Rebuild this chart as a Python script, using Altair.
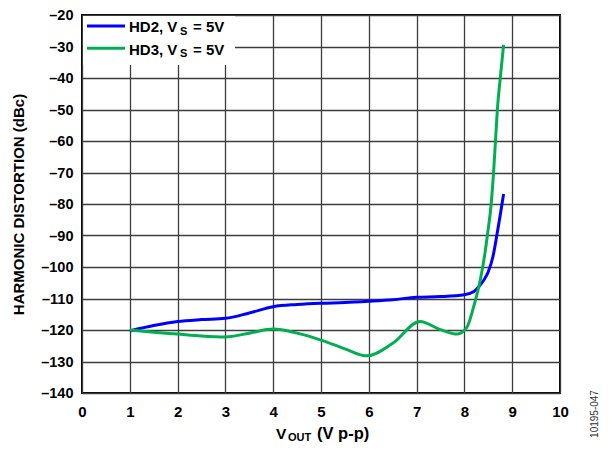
import altair as alt
import pandas as pd

# ---- data ----
hd2_x = [1.0, 1.5, 2.0, 2.5, 3.0, 3.5, 4.0, 4.5, 5.0, 5.5, 6.0, 6.5, 7.0, 7.5, 8.0,
         8.2, 8.3, 8.4, 8.5, 8.6, 8.68, 8.75, 8.82]
hd2_y = [-120.3, -118.6, -117.3, -116.7, -116.3, -114.6, -112.6, -111.9, -111.5, -111.3,
         -110.9, -110.4, -109.6, -109.4, -108.8, -107.8, -106.3, -104.3, -101.5, -96.5,
         -89.8, -83.5, -76.8]
hd3_x = [1.0, 1.5, 2.0, 2.5, 3.0, 3.5, 4.0, 4.5, 5.0, 5.5, 5.96, 6.5, 7.07, 7.5, 7.85,
         8.05, 8.19, 8.33, 8.43, 8.48, 8.56, 8.61, 8.65, 8.69, 8.75, 8.82]
hd3_y = [-120.0, -120.7, -121.3, -121.9, -122.2, -121.0, -119.7, -121.0, -123.2, -126.0,
         -128.2, -124.2, -117.3, -119.9, -121.3, -119.2, -112.8, -104.3, -95.6, -90.0,
         -80.0, -70.0, -60.0, -50.0, -40.0, -29.5]
series_names = ["HD2", "HD3"]
series_colors = ["#0000FF", "#00B050"]
legend_main = ["HD2, V", "HD3, V"]
legend_sub = "S"
legend_tail = "= 5V"
x_ticks = list(range(0, 11))
y_ticks = list(range(-140, -19, 10))
y_title = "HARMONIC DISTORTION (dBc)"
x_title_parts = ["V", "OUT", "(V p-p)"]
side_note = "10195-047"

df = pd.concat([
    pd.DataFrame({"x": hd2_x, "y": hd2_y, "s": series_names[0]}),
    pd.DataFrame({"x": hd3_x, "y": hd3_y, "s": series_names[1]}),
], ignore_index=True)

W, H = 478, 378
FONT = "Liberation Sans"
one = pd.DataFrame({"k": [0]})

x_enc = alt.X("x:Q", scale=alt.Scale(domain=[0, 10], nice=False),
              axis=alt.Axis(values=x_ticks, grid=True, ticks=False, domain=False,
                            labelFont=FONT, labelFontWeight="bold", labelFontSize=15,
                            labelColor="black", labelPadding=11, labelFlush=False,
                            labelOverlap=False, title=None,
                            gridColor="#3d3d3d", gridWidth=1.3))
y_enc = alt.Y("y:Q", scale=alt.Scale(domain=[-140, -20], nice=False, zero=False),
              axis=alt.Axis(values=y_ticks, grid=True, ticks=False, domain=False,
                            labelFont=FONT, labelFontWeight="bold", labelFontSize=14.5,
                            labelColor="black", labelPadding=9, labelFlush=False,
                            labelOverlap=False, labelOffset=0.5,
                            labelExpr="datum.value < 0 ? '\u2013' + abs(datum.value) : datum.label",
                            title=y_title, titleFont=FONT, titleFontSize=15,
                            titleFontWeight="bold", titleColor="black",
                            titleX=-64, titleY=H / 2, titleBaseline="middle",
                            titleAlign="center",
                            gridColor="#3d3d3d", gridWidth=1.3))

lines = alt.Chart(df).mark_line(interpolate="monotone", strokeWidth=3).encode(
    x=x_enc, y=y_enc,
    color=alt.Color("s:N", scale=alt.Scale(domain=series_names, range=series_colors),
                    legend=None),
    detail="s:N",
)

layers = [lines]

# legend background
layers.append(alt.Chart(one).mark_rect(fill="white").encode(
    x=alt.value(1), x2=alt.value(153), y=alt.value(1), y2=alt.value(50)))

for i, (name, color) in enumerate(zip(series_names, series_colors)):
    ry = 11 + i * 22.3
    layers.append(alt.Chart(one).mark_rule(color=color, strokeWidth=3).encode(
        x=alt.value(5), x2=alt.value(43), y=alt.value(ry)))
    layers.append(alt.Chart(pd.DataFrame({"t": [legend_main[i]]})).mark_text(
        align="left", baseline="alphabetic", font=FONT, fontWeight="bold",
        fontSize=15, color="black").encode(
        x=alt.value(47), y=alt.value(ry + 6.3), text="t:N"))
    layers.append(alt.Chart(pd.DataFrame({"t": [legend_sub]})).mark_text(
        align="left", baseline="alphabetic", font=FONT, fontWeight="bold",
        fontSize=11, color="black").encode(
        x=alt.value(98), y=alt.value(ry + 9), text="t:N"))
    layers.append(alt.Chart(pd.DataFrame({"t": [legend_tail]})).mark_text(
        align="left", baseline="alphabetic", font=FONT, fontWeight="bold",
        fontSize=15, color="black").encode(
        x=alt.value(111), y=alt.value(ry + 6.3), text="t:N"))

# x axis title built from pieces (subscript)
layers.append(alt.Chart(pd.DataFrame({"t": [x_title_parts[0]]})).mark_text(
    align="left", baseline="alphabetic", font=FONT, fontWeight="bold",
    fontSize=15.5, color="black").encode(x=alt.value(194), y=alt.value(424), text="t:N"))
layers.append(alt.Chart(pd.DataFrame({"t": [x_title_parts[1]]})).mark_text(
    align="left", baseline="alphabetic", font=FONT, fontWeight="bold",
    fontSize=11, color="black").encode(x=alt.value(206), y=alt.value(426), text="t:N"))
layers.append(alt.Chart(pd.DataFrame({"t": [x_title_parts[2]]})).mark_text(
    align="left", baseline="alphabetic", font=FONT, fontWeight="bold",
    fontSize=16.5, color="black").encode(x=alt.value(235), y=alt.value(424), text="t:N"))

# side figure number
layers.append(alt.Chart(pd.DataFrame({"t": [side_note]})).mark_text(
    align="center", baseline="middle", font=FONT, fontSize=10, color="#333333",
    angle=270).encode(x=alt.value(513), y=alt.value(399), text="t:N"))

chart = alt.layer(*layers).properties(
    width=W, height=H, autosize="none",
    padding={"left": 74, "top": 7, "right": 40, "bottom": 52},
).configure_view(stroke="black", strokeWidth=2)

chart.save("out.html", embed_options={"renderer": "svg", "actions": False})
